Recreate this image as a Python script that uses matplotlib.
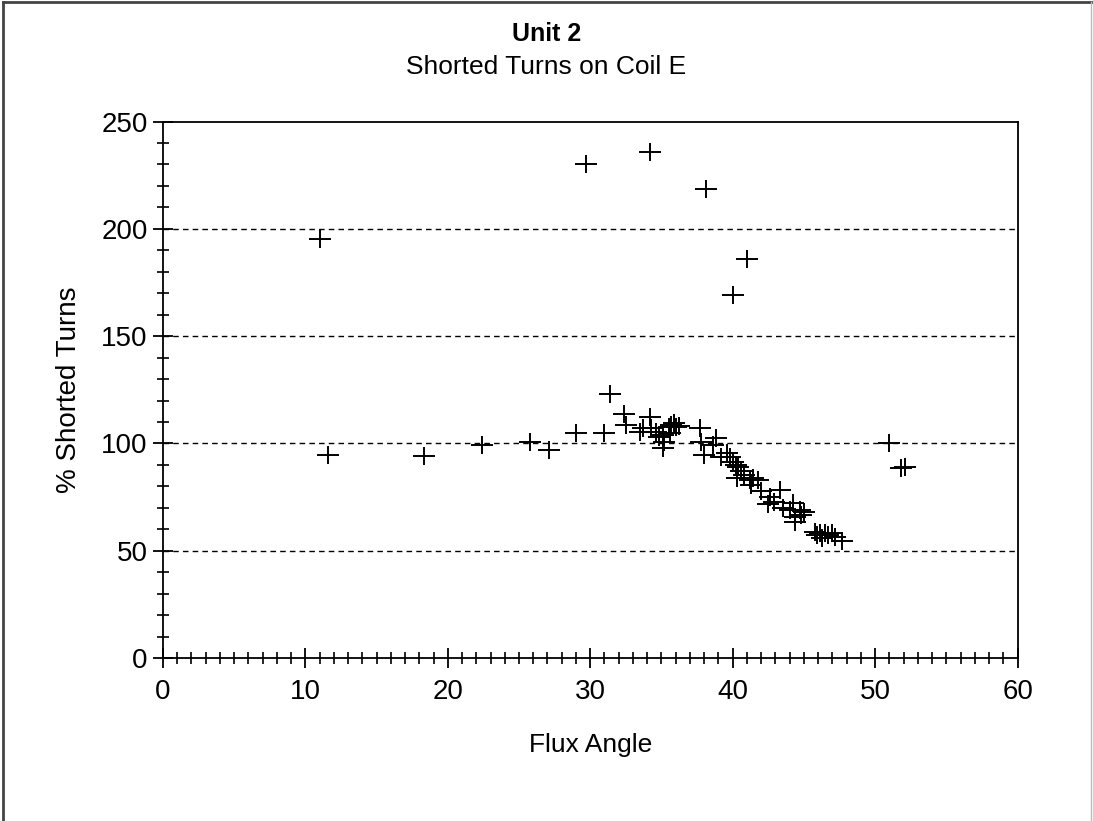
import matplotlib
matplotlib.use("Agg")
import matplotlib.pyplot as plt
from matplotlib.path import Path
from matplotlib.ticker import MultipleLocator
from matplotlib.lines import Line2D

flux_angle = [11.0, 11.6, 18.3, 22.4, 25.8, 27.1, 29.0, 29.7, 31.0, 31.4, 32.4, 34.2,
              38.1, 41.0, 40.0, 51.0, 51.8, 52.1,
              32.5, 33.5, 33.7, 34.2, 34.3, 34.6, 35.1, 35.1, 35.2, 35.5, 35.7, 35.9,
              36.0, 35.6, 34.8, 36.2,
              37.7, 37.8, 38.0, 38.6, 38.8, 39.2, 39.6, 39.8, 40.0, 40.2, 40.4, 40.6,
              40.8, 41.2, 41.3, 41.4, 41.8, 42.0, 42.5, 42.6, 42.9, 43.3, 43.5, 44.0,
              44.2, 44.4, 44.4, 44.7, 44.8, 45.0, 45.8, 45.9, 46.1, 46.5, 46.7, 47.0,
              47.2, 47.7, 46.3, 40.3]
shorted_pct = [195.2, 94.6, 94.3, 99.3, 100.5, 97.0, 105.0, 230.0, 105.0, 123.0, 113.5, 236.0,
               218.5, 186.0, 169.0, 100.2, 88.4, 89.2,
               108.6, 105.5, 107.0, 112.4, 107.0, 105.5, 103.9, 97.7, 100.8, 107.8, 108.6, 109.4,
               107.8, 104.7, 103.0, 108.0,
               107.0, 100.8, 94.6, 99.3, 102.4, 93.8, 95.4, 93.8, 91.5, 90.0, 89.2, 87.0,
               85.3, 82.9, 80.6, 83.8, 82.9, 78.0, 71.8, 75.2, 72.9, 78.3, 69.8, 69.0,
               72.1, 65.9, 63.5, 69.0, 66.6, 68.0, 58.9, 57.3, 58.1, 58.1, 57.3, 58.1,
               56.6, 54.3, 56.0, 84.0]

title = "Unit 2"
subtitle = "Shorted Turns on Coil E"
xlabel = "Flux Angle"
ylabel = "% Shorted Turns"

plt.rcParams['font.family'] = ['Liberation Sans', 'DejaVu Sans']

fig = plt.figure(figsize=(10.93, 8.21), dpi=100)
ax = fig.add_axes([0.149, 0.1985, 0.782, 0.6535])

plus = Path([(-1, 0), (1, 0), (0, -0.78), (0, 0.78)],
            [Path.MOVETO, Path.LINETO, Path.MOVETO, Path.LINETO])
ax.plot(flux_angle, shorted_pct, linestyle='none', marker=plus, markersize=16.5,
        markeredgewidth=1.4, color='black', clip_on=False, zorder=3)

ax.set_xlim(0, 60)
ax.set_ylim(0, 250)
ax.xaxis.set_major_locator(MultipleLocator(10))
ax.xaxis.set_minor_locator(MultipleLocator(1))
ax.yaxis.set_major_locator(MultipleLocator(50))
ax.yaxis.set_minor_locator(MultipleLocator(10))
ax.tick_params(which='major', direction='inout', length=14, width=1.3, labelsize=20)
ax.tick_params(axis='x', which='major', pad=8)
ax.tick_params(axis='y', which='major', pad=4)
ax.tick_params(which='minor', direction='inout', length=8, width=1.2)
for y in [50, 100, 150, 200]:
    ax.axhline(y, color='black', linestyle=(0, (4, 3)), linewidth=1.0, zorder=1)
for s in ax.spines.values():
    s.set_linewidth(1.3)

ax.set_xlabel(xlabel, fontsize=19, labelpad=20)
ax.set_ylabel(ylabel, fontsize=20, labelpad=14)
fig.text(0.5, 0.959, title, ha='center', va='center', fontsize=18, fontweight='bold')
fig.text(0.5, 0.918, subtitle, ha='center', va='center', fontsize=19)

fig.add_artist(Line2D([0.003, 0.003], [0, 0.997], transform=fig.transFigure, color='#444444', linewidth=2))
fig.add_artist(Line2D([0.003, 0.9985], [0.997, 0.997], transform=fig.transFigure, color='#444444', linewidth=2))
fig.add_artist(Line2D([0.9985, 0.9985], [0, 0.997], transform=fig.transFigure, color='#bbbbbb', linewidth=1))

fig.savefig("out.png", dpi=100)
